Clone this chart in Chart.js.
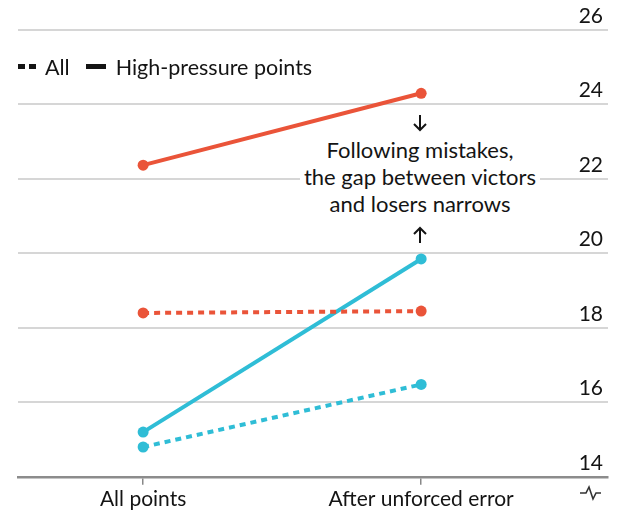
<!DOCTYPE html>
<html>
<head>
<meta charset="utf-8">
<script src="https://cdn.jsdelivr.net/npm/chart.js@4"></script>
<style>
  html, body { margin: 0; padding: 0; background: #fff; }
  #wrap { position: relative; width: 620px; height: 516px; overflow: hidden; font-family: Lato, "Open Sans", sans-serif; color: #141414; }
  #chart { position: absolute; left: 0; top: 0; }
  .legend { position: absolute; left: 18px; top: 51px; font-size: 21.5px; line-height: 26px; white-space: nowrap; }
  .legend span { display: inline-block; vertical-align: middle; }
  .dash { width: 7px; height: 5px; background: #141414; margin-right: 4px; }
  .solid { width: 20px; height: 5px; background: #141414; margin-right: 10px; }
  .note { position: absolute; left: 300px; width: 240px; top: 136px; text-align: center; font-size: 22px; line-height: 27px; background: #fff; }
  svg { position: absolute; left: 0; top: 0; }
</style>
</head>
<body>
<div id="wrap">
  <canvas id="chart" width="620" height="516"></canvas>
  <div class="legend">
    <span class="dash"></span><span class="dash" style="margin-right:9px"></span><span style="margin-right:16px">All</span><span class="solid"></span><span>High-pressure points</span>
  </div>
  <div class="note">Following mistakes,<br>the gap between victors<br>and losers narrows</div>
  <svg width="620" height="516" fill="none" stroke="#141414" stroke-width="2">
    <path d="M420,115 V130 M414,124 L420,130 L426,124"/>
    <path d="M420,243 V228 M414,234 L420,228 L426,234"/>
    <polyline points="580,493 586,493 589,487 593,499 596,493 601,493" stroke="#333" stroke-width="1.6"/>
  </svg>
</div>
<script>
  // values
  const categories = ["All points", "After unforced error"];
  const victorsHigh = [22.37, 24.3];
  const victorsAll  = [18.4, 18.45];
  const losersHigh  = [15.2, 19.85];
  const losersAll   = [14.8, 16.48];
  const yTicks = [14, 16, 18, 20, 22, 24, 26];

  const RED = "#ea5439";
  const BLUE = "#2fbdd6";

  function pts(arr) { return arr.map((v, i) => ({ x: i, y: v })); }

  function line(data, color, dashed) {
    return {
      data: pts(data),
      borderColor: color,
      backgroundColor: color,
      borderWidth: 4,
      borderDash: dashed ? [6, 5] : [],
      pointRadius: 5.5,
      pointHoverRadius: 5.5,
      pointBorderWidth: 0,
      tension: 0,
      clip: false
    };
  }

  new Chart(document.getElementById("chart"), {
    type: "line",
    data: {
      datasets: [
        line(victorsAll, RED, true),
        line(losersAll, BLUE, true),
        line(victorsHigh, RED, false),
        line(losersHigh, BLUE, false)
      ]
    },
    options: {
      responsive: false,
      animation: false,
      devicePixelRatio: 1,
      layout: { padding: { top: 30, left: 18, right: 12, bottom: 2 } },
      plugins: { legend: { display: false }, tooltip: { enabled: false } },
      scales: {
        x: {
          type: "linear",
          min: -0.45,
          max: 1.672,
          afterBuildTicks: axis => { axis.ticks = categories.map((_, i) => ({ value: i })); },
          ticks: {
            callback: v => categories[v] || "",
            color: "#141414",
            font: { family: "Lato", size: 21 },
            padding: 2,
            maxRotation: 0
          },
          grid: { drawOnChartArea: false, drawTicks: true, tickLength: 8, color: "#888", lineWidth: 1.5 },
          border: { display: true, color: "#8c8c8c", width: 2.5 }
        },
        y: {
          position: "right",
          min: 14,
          max: 26,
          afterBuildTicks: axis => { axis.ticks = yTicks.map(v => ({ value: v })); },
          ticks: {
            mirror: true,
            padding: -5,
            labelOffset: -14,
            color: "#141414",
            font: { family: "Lato", size: 21 }
          },
          grid: {
            drawTicks: false,
            lineWidth: 2,
            color: ctx => ctx.tick && ctx.tick.value === 14 ? "rgba(0,0,0,0)" : "#d6d6d6"
          },
          border: { display: false }
        }
      }
    }
  });
</script>
</body>
</html>
